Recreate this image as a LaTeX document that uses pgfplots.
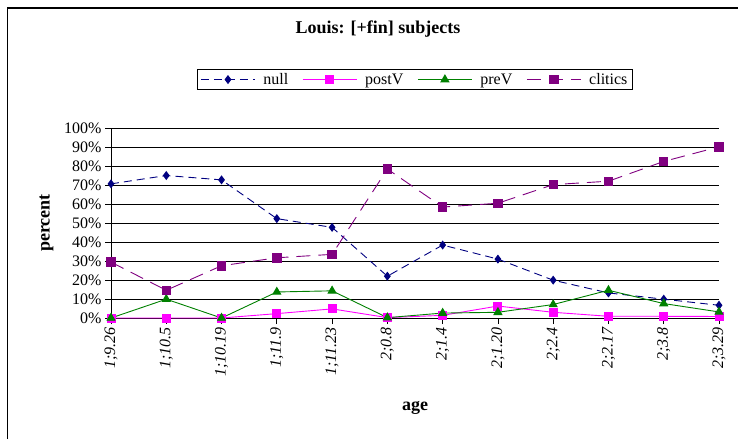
\documentclass[border=0pt]{standalone}
\usepackage{pgfplots}
\pgfplotsset{compat=1.18}
\usepackage{fontspec}
\setmainfont{Liberation Serif}

\definecolor{nullc}{RGB}{0,0,128}
\definecolor{postc}{RGB}{255,0,255}
\definecolor{prec}{RGB}{0,128,0}
\definecolor{clitc}{RGB}{128,0,128}

\begin{document}
\begin{tikzpicture}
\useasboundingbox (0pt,0pt) rectangle (738pt,-439pt);
% chart area frame (cropped at right and bottom)
\draw[line width=1.3pt] (7.5pt,-439pt) -- (7.5pt,-8pt) -- (738pt,-8pt);

\begin{axis}[
    at={(111pt,-318pt)}, anchor=south west,
    scale only axis, width=608pt, height=190pt,
    xmin=0, xmax=11, ymin=0, ymax=100,
    axis x line*=bottom, axis y line*=left,
    axis line style={line width=0.8pt, black},
    tick align=outside, major tick length=6pt,
    tick style={line width=0.8pt, black},
    xtick={0,...,11},
    xticklabels={1;9.26,1;10.5,1;10.19,1;11.9,1;11.23,2;0.8,2;1.4,2;1.20,2;2.4,2;2.17,2;3.8,2;3.29},
    x tick label style={rotate=90, anchor=east, font=\fontsize{16}{18}\selectfont\itshape},
    ytick={0,10,...,100},
    yticklabels={0\%,10\%,20\%,30\%,40\%,50\%,60\%,70\%,80\%,90\%,100\%},
    y tick label style={font=\fontsize{16}{18}\selectfont},
    /pgf/number format/assume math mode=true,
    ymajorgrids, grid style={line width=0.8pt, black},
    title={Louis: [+fin] subjects},
    title style={at={(axis description cs:0.439,1.489)}, anchor=center, font=\fontsize{18}{20}\selectfont\bfseries},
    xlabel={age},
    xlabel style={at={(axis description cs:0.5,-0.474)}, anchor=center, font=\fontsize{18}{20}\selectfont\bfseries},
    ylabel={percent},
    ylabel style={at={(axis description cs:-0.106,0.5)}, anchor=center, font=\fontsize{18}{20}\selectfont\bfseries},
    legend columns=4,
    legend style={at={(axis description cs:0.5,1.255)}, anchor=center,
        draw=black, line width=1pt, font=\fontsize{16}{18}\selectfont,
        /tikz/every odd column/.append style={column sep=6pt},
        /tikz/every even column/.append style={column sep=12pt}},
    legend image code/.code={\draw[mark repeat=2,mark phase=2] plot coordinates {(0pt,0pt) (27pt,0pt) (54pt,0pt)};},
    clip=false,
    every axis plot/.append style={line width=0.9pt},
]
\addplot[nullc, dash pattern=on 8pt off 5pt, mark=diamond*, mark size=3.8pt, mark options={solid, fill=nullc}]
    coordinates {(0,70.6) (1,75.0) (2,72.7) (3,52.3) (4,47.7) (5,22.0) (6,38.4) (7,31.0) (8,19.9) (9,13.2) (10,9.9) (11,6.7)};
\addlegendentry{null}
\addplot[postc, mark=square*, mark size=4pt, mark options={solid, fill=postc}]
    coordinates {(0,0) (1,0) (2,0) (3,2.3) (4,4.8) (5,0.2) (6,1.4) (7,6.3) (8,3.0) (9,0.9) (10,0.9) (11,0.8)};
\addlegendentry{postV}
\addplot[prec, mark=triangle*, mark size=4.5pt, mark options={solid, fill=prec}]
    coordinates {(0,0) (1,9.9) (2,0) (3,13.7) (4,14.3) (5,0.2) (6,2.6) (7,3.0) (8,7.1) (9,14.6) (10,7.6) (11,3.2)};
\addlegendentry{preV}
\addplot[clitc, dash pattern=on 14pt off 8pt, mark=square*, mark size=4.2pt, mark options={solid, fill=clitc}]
    coordinates {(0,29.4) (1,14.6) (2,27.5) (3,31.7) (4,33.5) (5,78.4) (6,58.4) (7,60.4) (8,70.2) (9,72.0) (10,82.4) (11,90.1)};
\addlegendentry{clitics}
\end{axis}
\end{tikzpicture}
\end{document}
